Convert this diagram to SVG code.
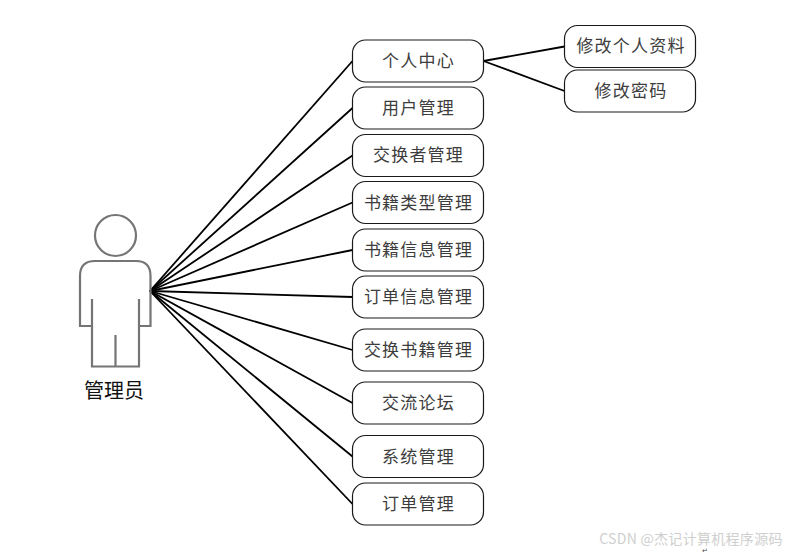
<svg xmlns="http://www.w3.org/2000/svg" width="791" height="554" viewBox="0 0 791 554">
<style>
.n{fill:#fff;stroke:#1a1a1a;stroke-width:1.2}
.t{font-family:"Noto Sans CJK SC","Noto Sans CJK JP",sans-serif;font-size:17px;fill:#3d3d3d;text-anchor:middle;letter-spacing:1.2px}
.c line{stroke:#000;stroke-width:1.8}
.p{fill:none;stroke:#757575;stroke-width:2.2}
</style>
<rect width="791" height="554" fill="#fff"/>
<g class="c" id="connectors">
<line x1="150" y1="291" x2="352.5" y2="61"/>
<line x1="150" y1="291" x2="352.5" y2="108"/>
<line x1="150" y1="291" x2="352.5" y2="155.500"/>
<line x1="150" y1="291" x2="352.5" y2="202.500"/>
<line x1="150" y1="291" x2="352.5" y2="250"/>
<line x1="150" y1="291" x2="352.5" y2="297"/>
<line x1="150" y1="291" x2="352.5" y2="350"/>
<line x1="150" y1="291" x2="352.5" y2="403"/>
<line x1="150" y1="291" x2="352.5" y2="456.500"/>
<line x1="150" y1="291" x2="352.5" y2="504"/>
<line x1="483.500" y1="61" x2="564.500" y2="46.500"/>
<line x1="483.500" y1="61" x2="564.500" y2="91"/>
</g>
<g id="actor">
<circle class="p" cx="115.500" cy="235.500" r="20.500"/>
<path class="p" d="M92 299V326H80V276Q80 261 95 261H136Q150.500 261 150.500 276V326H139V299M92 326V366.500H139V326M115.500 335V366.500"/>
<text x="114" y="398" style="font-family:'Noto Sans CJK SC',sans-serif;font-size:20px;fill:#111;text-anchor:middle">管理员</text>
</g>
<g id="n1"><rect class="n" x="352.500" y="40" width="131" height="42" rx="13"/><text class="t" x="418.500" y="66.500">个人中心</text></g>
<g id="n2"><rect class="n" x="352.500" y="87" width="131" height="42" rx="13"/><text class="t" x="418.500" y="113.500">用户管理</text></g>
<g id="n3"><rect class="n" x="352.500" y="134.500" width="131" height="42" rx="13"/><text class="t" x="418.500" y="161">交换者管理</text></g>
<g id="n4"><rect class="n" x="352.500" y="181.500" width="131" height="42" rx="13"/><text class="t" x="418.500" y="209">书籍类型管理</text></g>
<g id="n5"><rect class="n" x="352.500" y="229" width="131" height="42" rx="13"/><text class="t" x="418.500" y="255.500">书籍信息管理</text></g>
<g id="n6"><rect class="n" x="352.500" y="276" width="131" height="42" rx="13"/><text class="t" x="418.500" y="302.500">订单信息管理</text></g>
<g id="n7"><rect class="n" x="352.500" y="329" width="131" height="42" rx="13"/><text class="t" x="418.500" y="355.500">交换书籍管理</text></g>
<g id="n8"><rect class="n" x="352.500" y="382" width="131" height="42" rx="13"/><text class="t" x="418.500" y="408.500">交流论坛</text></g>
<g id="n9"><rect class="n" x="352.500" y="435.500" width="131" height="42" rx="13"/><text class="t" x="418.500" y="463">系统管理</text></g>
<g id="n10"><rect class="n" x="352.500" y="483" width="131" height="42" rx="13"/><text class="t" x="418.500" y="509.500">订单管理</text></g>
<g id="n11"><rect class="n" x="564.500" y="25.500" width="131" height="42" rx="13"/><text class="t" x="631" y="51.500">修改个人资料</text></g>
<g id="n12"><rect class="n" x="564.500" y="70" width="131" height="42" rx="13"/><text class="t" x="631" y="96.500">修改密码</text></g>
<text x="691" y="544" style="font-family:'Noto Sans CJK SC',sans-serif;font-size:14px;fill:#cfcfcf;text-anchor:middle;letter-spacing:.3px">CSDN @杰记计算机程序源码</text>
<text x="705" y="553" style="font-family:'DejaVu Sans',sans-serif;font-size:7px;fill:#444;text-anchor:middle">↵</text>
</svg>
